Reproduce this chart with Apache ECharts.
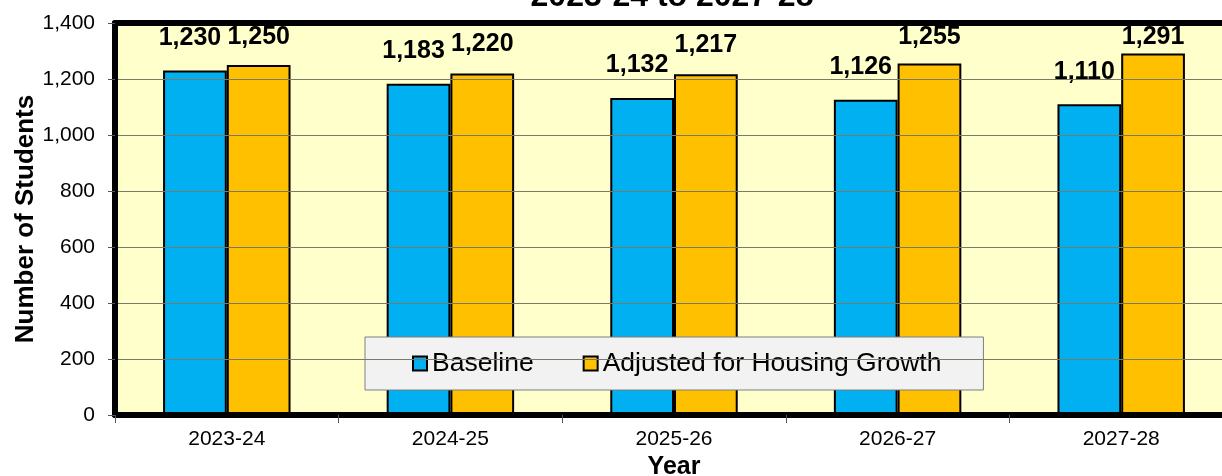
<!DOCTYPE html>
<html>
<head>
<meta charset="utf-8">
<script src="https://cdn.jsdelivr.net/npm/echarts@6/dist/echarts.min.js"></script>
<style>
  html, body { margin: 0; padding: 0; background: #fff; }
  #chart { width: 1222px; height: 476px; }
</style>
</head>
<body>
<div id="chart"></div>
<script>
// Enrollment projection: baseline vs. adjusted for housing growth
const years = ['2023-24', '2024-25', '2025-26', '2026-27', '2027-28'];
const baseline = [1230, 1183, 1132, 1126, 1110];
const adjusted = [1250, 1220, 1217, 1255, 1291];
const yTicks = { min: 0, max: 1400, interval: 200 };

const FONT = '"Liberation Sans", Arial, sans-serif';
const GRID = { left: 115, top: 23, right: -11, bottom: 61 };

const chart = echarts.init(document.getElementById('chart'), null, { renderer: 'canvas' });

const fmt = v => v.toLocaleString('en-US');

function labelCfg(dist, dx) {
  return {
    show: true,
    position: 'top',
    distance: dist,
    offset: [dx, 0],
    formatter: p => fmt(p.value),
    fontFamily: FONT,
    fontWeight: 'bold',
    fontSize: 25,
    color: '#000'
  };
}

const option = {
  animation: false,
  backgroundColor: '#fff',
  textStyle: { fontFamily: FONT },
  title: {
    text: '2023-24 to 2027-28',
    left: 667,
    textAlign: 'center',
    top: -24,
    textStyle: { fontFamily: FONT, fontWeight: 'bold', fontSize: 32, color: '#000' }
  },
  grid: {
    left: GRID.left, top: GRID.top, right: GRID.right, bottom: GRID.bottom,
    outerBoundsMode: 'none',
    containLabel: false,
    show: true,
    backgroundColor: '#FFFFCC',
    borderWidth: 0
  },
  legend: {
    left: 365,
    top: 337,
    orient: 'horizontal',
    backgroundColor: '#F2F2F2',
    borderColor: '#7F7F7F',
    borderWidth: 1,
    borderRadius: 0,
    padding: [13, 42, 13, 47],
    itemGap: 49,
    itemWidth: 14,
    itemHeight: 14,
    icon: 'rect',
    itemStyle: { borderColor: '#000', borderWidth: 2 },
    textStyle: { fontFamily: FONT, fontSize: 26.5, color: '#000' },
    data: ['Baseline', 'Adjusted for Housing Growth']
  },
  xAxis: [
    {
      type: 'category',
      data: years,
      position: 'bottom',
      name: 'Year',
      nameLocation: 'middle',
      nameGap: 35,
      nameTextStyle: { fontFamily: FONT, fontWeight: 'bold', fontSize: 25, color: '#000' },
      axisLine: { show: true, lineStyle: { color: '#000', width: 6 } },
      axisTick: { show: true, alignWithLabel: false, length: 8, lineStyle: { color: '#555', width: 1 } },
      axisLabel: { margin: 14, fontFamily: FONT, fontSize: 21, color: '#000' },
      splitLine: { show: false },
      z: 5
    },
    {
      // top edge of the plot frame
      type: 'category',
      data: years,
      position: 'top',
      axisLine: { show: true, lineStyle: { color: '#000', width: 6 } },
      axisTick: { show: false },
      axisLabel: { show: false },
      splitLine: { show: false },
      z: 5
    }
  ],
  yAxis: {
    type: 'value',
    min: yTicks.min,
    max: yTicks.max,
    interval: yTicks.interval,
    name: 'Number of Students',
    nameLocation: 'middle',
    nameRotate: 90,
    nameGap: 76,
    nameMoveOverlap: false,
    nameTextStyle: { fontFamily: FONT, fontWeight: 'bold', fontSize: 26, color: '#000' },
    axisLine: { show: true, lineStyle: { color: '#000', width: 6 } },
    axisTick: { show: true, length: 7, lineStyle: { color: '#555', width: 1 } },
    axisLabel: { margin: 20, fontFamily: FONT, fontSize: 21, color: '#000', formatter: v => fmt(v) },
    splitLine: { show: true, lineStyle: { color: '#7A7A6A', width: 1 } },
    z: 5
  },
  series: [
    {
      name: 'Baseline',
      type: 'bar',
      data: baseline,
      barGap: '0%',
      barCategoryGap: '43%',
      itemStyle: { color: '#00B0F0', borderColor: '#000', borderWidth: 2 },
      label: labelCfg(20, -5)
    },
    {
      name: 'Adjusted for Housing Growth',
      type: 'bar',
      data: adjusted,
      barGap: '0%',
      barCategoryGap: '43%',
      itemStyle: { color: '#FFC000', borderColor: '#000', borderWidth: 2 },
      label: labelCfg(17, 0)
    }
  ]
};

chart.setOption(option);

// Keep value labels inside the plot frame: tall bars get their label pulled closer.
function fitted(values, seriesIndex, base) {
  return values.map((v, i) => {
    const px = chart.convertToPixel({ seriesIndex: seriesIndex }, [i, v]);
    const room = px[1] - GRID.top - 27;
    return { value: v, label: { distance: Math.max(2, Math.min(base, room)) } };
  });
}

chart.setOption({
  series: [
    { data: fitted(baseline, 0, 20) },
    { data: fitted(adjusted, 1, 17) }
  ]
});
</script>
</body>
</html>
